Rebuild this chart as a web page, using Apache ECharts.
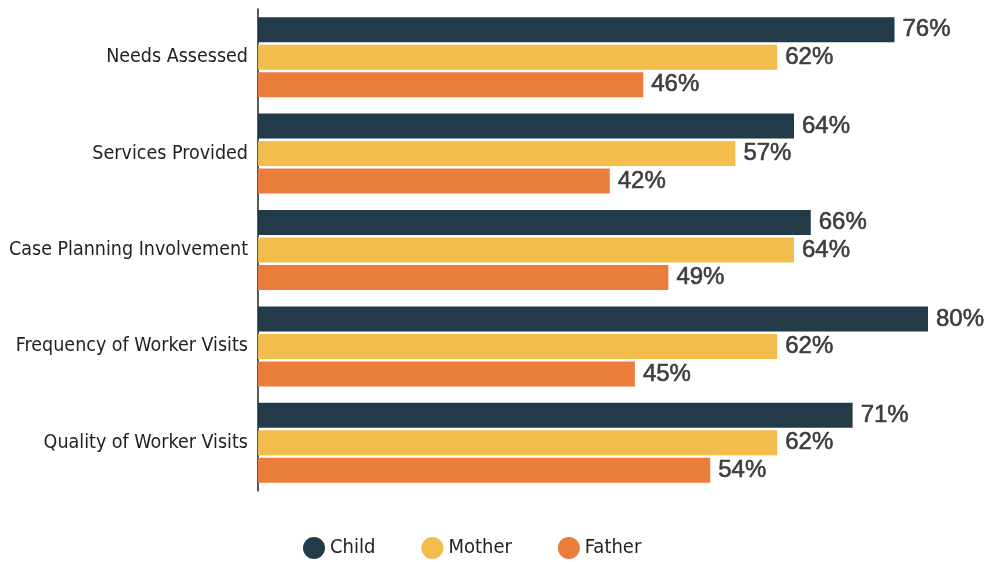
<!DOCTYPE html>
<html><head><meta charset="utf-8">
<script src="https://cdn.jsdelivr.net/npm/echarts@6/dist/echarts.min.js"></script>
<style>html,body{margin:0;padding:0;background:#fff}#c{width:985px;height:562px}</style>
</head><body><div id="c"></div>
<script>
const categories = ['Needs Assessed','Services Provided','Case Planning Involvement','Frequency of Worker Visits','Quality of Worker Visits'];
const child = [76, 64, 66, 80, 71];
const mother = [62, 57, 64, 62, 62];
const father = [46, 42, 49, 45, 54];
const seriesNames = ['Child','Mother','Father'];
const colors = ['#233a48','#f3bd4b','#eb7d3c'];

const chart = echarts.init(document.getElementById('c'));
const font = '"DejaVu Sans Condensed","Liberation Sans",Arial,sans-serif';
function mk(name, data, color){
  return {
    name, type:'bar', data, barWidth:25, barGap:'10%',
    itemStyle:{color},
    label:{show:true, position:'right', distance:8, formatter:'{c}%', color:'#3d3d3d', fontSize:24, fontWeight:'normal',
      textBorderColor:'#3d3d3d', textBorderWidth:0.6,
      fontFamily:'"Liberation Sans",Arial,sans-serif'}
  };
}
chart.setOption({
  animation:false,
  color: colors,
  grid:{left:258, right:57, top:9, height:482, containLabel:false, outerBoundsMode:'none'},
  xAxis:{type:'value', min:0, max:80, show:false},
  yAxis:{type:'category', data:categories, inverse:true,
    axisLine:{show:true, lineStyle:{color:'#222', width:1.5}},
    axisTick:{show:false},
    axisLabel:{color:'#222', fontSize:19.5, fontFamily:font, margin:10}
  },
  legend:{top:532, left:298, icon:'circle', itemWidth:22, itemHeight:22, itemGap:46,
    textStyle:{color:'#222', fontSize:20, fontFamily:font}, data:seriesNames},
  series:[mk(seriesNames[0], child, colors[0]), mk(seriesNames[1], mother, colors[1]), mk(seriesNames[2], father, colors[2])]
});
</script></body></html>
